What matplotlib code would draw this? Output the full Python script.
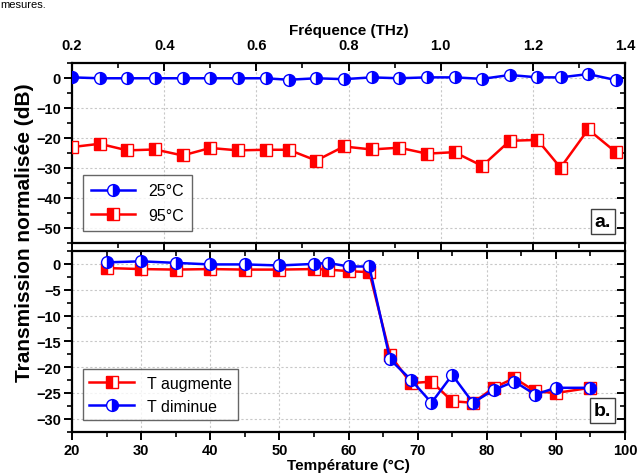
import matplotlib
matplotlib.use("Agg")
import matplotlib.pyplot as plt
from matplotlib.ticker import MultipleLocator

plt.rcParams['font.family'] = ['Liberation Sans', 'DejaVu Sans']

# panel a: transmission vs frequency
freq = [0.20, 0.26, 0.32, 0.38, 0.44, 0.50, 0.56, 0.62, 0.67, 0.73, 0.79,
        0.85, 0.91, 0.97, 1.03, 1.09, 1.15, 1.21, 1.26, 1.32, 1.38]
t25 = [0.2, -0.1, -0.1, -0.1, -0.1, -0.1, -0.1, -0.1, -0.6, -0.1, -0.4,
       0.2, -0.1, 0.2, 0.2, -0.3, 1.0, 0.2, 0.2, 1.3, -0.7]
t95 = [-23.1, -22.0, -24.2, -23.9, -25.9, -23.4, -24.2, -24.0, -24.0, -27.6, -22.9,
       -23.9, -23.3, -25.3, -24.8, -29.4, -21.0, -20.7, -30.0, -17.2, -24.8]

# panel b: transmission vs temperature
temp = [25, 30, 35, 40, 45, 50, 55, 57, 60, 63, 66, 69, 72, 75, 78, 81, 84, 87, 90, 95]
t_up = [-0.8, -1.0, -1.1, -1.0, -1.1, -1.1, -1.0, -1.1, -1.4, -1.6, -17.6, -23.1,
        -22.8, -26.6, -26.9, -24.0, -22.1, -24.7, -25.0, -24.0]
t_down = [0.3, 0.5, 0.2, -0.1, -0.1, -0.3, 0.0, 0.2, -0.5, -0.5, -18.5, -22.4,
          -26.9, -21.5, -26.9, -24.4, -22.8, -25.3, -24.0, -24.0]

BLUE = '#0000ff'
RED = '#ff0000'

blue_style = dict(color=BLUE, lw=1.8, marker='o', ms=8.5, mfc=BLUE, mfcalt='white',
                  fillstyle='right', mec=BLUE, mew=1.0)
red_style = dict(color=RED, lw=1.8, marker='s', ms=8, mfc=RED, mfcalt='white',
                 fillstyle='left', mec=RED, mew=1.0)

fig = plt.figure(figsize=(6.38, 4.77), dpi=100)
ax1 = fig.add_axes([0.1129, 0.4895, 0.8668, 0.3763])
ax2 = fig.add_axes([0.1129, 0.0929, 0.8668, 0.3788])


def style_axes(ax):
    for s in ax.spines.values():
        s.set_linewidth(1.6)
    ax.grid(True, which='major', color='#c8c8c8', linestyle=(0, (2, 2)), linewidth=0.8)
    ax.set_axisbelow(True)
    for lab in ax.get_xticklabels() + ax.get_yticklabels():
        lab.set_fontweight('bold')


# ---- panel a
ax1.plot(freq, t25, label='25°C', zorder=3, **blue_style)
ax1.plot(freq, t95, label='95°C', zorder=3, **red_style)
ax1.set_xlim(0.2, 1.4)
ax1.set_ylim(-55, 5)
ax1.xaxis.set_major_locator(MultipleLocator(0.2))
ax1.xaxis.set_minor_locator(MultipleLocator(0.1))
ax1.yaxis.set_major_locator(MultipleLocator(10))
ax1.yaxis.set_minor_locator(MultipleLocator(5))
ax1.tick_params(axis='x', which='both', top=True, bottom=True, labeltop=True,
                labelbottom=False, direction='out', labelsize=10.5, pad=2)
ax1.tick_params(axis='y', which='both', left=True, right=True, direction='out', labelsize=10.5, pad=2)
ax1.tick_params(which='major', length=6, width=1.4)
ax1.tick_params(which='minor', length=3.5, width=1.2)
ax1.xaxis.set_label_position('top')
ax1.set_xlabel('Fréquence (THz)', fontsize=11, fontweight='bold', labelpad=3)
ax1.set_xticks([0.2, 0.4, 0.6, 0.8, 1.0, 1.2, 1.4])
ax1.set_xticklabels(['0.2', '0.4', '0.6', '0.8', '1.0', '1.2', '1.4'])
style_axes(ax1)
# mirrored ticks point inward
for t in ax1.xaxis.get_major_ticks() + ax1.xaxis.get_minor_ticks():
    t.tick1line.set_marker(3)
    t.tick2line.set_marker(3)
for t in ax1.yaxis.get_major_ticks() + ax1.yaxis.get_minor_ticks():
    t.tick2line.set_marker(0)
leg1 = ax1.legend(loc='lower left', fontsize=11.5, handlelength=2.8, borderpad=0.5,
                  labelspacing=0.6, fancybox=False, edgecolor='#404040',
                  bbox_to_anchor=(0.005, 0.02))
leg1.get_frame().set_linewidth(1.0)
ax1.text(0.975, 0.07, 'a.', transform=ax1.transAxes, ha='right', va='bottom',
         fontsize=14, fontweight='bold',
         bbox=dict(boxstyle='square,pad=0.2', fc='white', ec='#404040', lw=1.0))

# ---- panel b
ax2.plot(temp, t_up, label='T augmente', zorder=3, **red_style)
ax2.plot(temp, t_down, label='T diminue', zorder=4, **blue_style)
ax2.set_xlim(20, 100)
ax2.set_ylim(-32.5, 2.5)
ax2.xaxis.set_major_locator(MultipleLocator(10))
ax2.xaxis.set_minor_locator(MultipleLocator(5))
ax2.yaxis.set_major_locator(MultipleLocator(5))
ax2.yaxis.set_minor_locator(MultipleLocator(2.5))
ax2.tick_params(axis='x', which='both', top=True, bottom=True, direction='out', labelsize=10.5, pad=2)
ax2.tick_params(axis='y', which='both', left=True, right=True, direction='out', labelsize=10.5, pad=2)
ax2.tick_params(which='major', length=6, width=1.4)
ax2.tick_params(which='minor', length=3.5, width=1.2)
ax2.set_xlabel('Température (°C)', fontsize=11, fontweight='bold', labelpad=1)
style_axes(ax2)
for t in ax2.xaxis.get_major_ticks() + ax2.xaxis.get_minor_ticks():
    t.tick2line.set_marker(3)
for t in ax2.yaxis.get_major_ticks() + ax2.yaxis.get_minor_ticks():
    t.tick2line.set_marker(0)
leg2 = ax2.legend(loc='lower left', fontsize=11.5, handlelength=2.8, borderpad=0.4,
                  labelspacing=0.5, fancybox=False, edgecolor='#404040',
                  bbox_to_anchor=(0.005, 0.02))
leg2.get_frame().set_linewidth(1.0)
ax2.text(0.975, 0.07, 'b.', transform=ax2.transAxes, ha='right', va='bottom',
         fontsize=14, fontweight='bold',
         bbox=dict(boxstyle='square,pad=0.2', fc='white', ec='#404040', lw=1.0))

fig.text(0.038, 0.513, 'Transmission normalisée (dB)', rotation=90, ha='center',
         va='center', fontsize=15, fontweight='bold')
fig.text(0.0, 0.999, 'mesures.', ha='left', va='top', fontsize=8)

fig.savefig('out.png', dpi=100)
